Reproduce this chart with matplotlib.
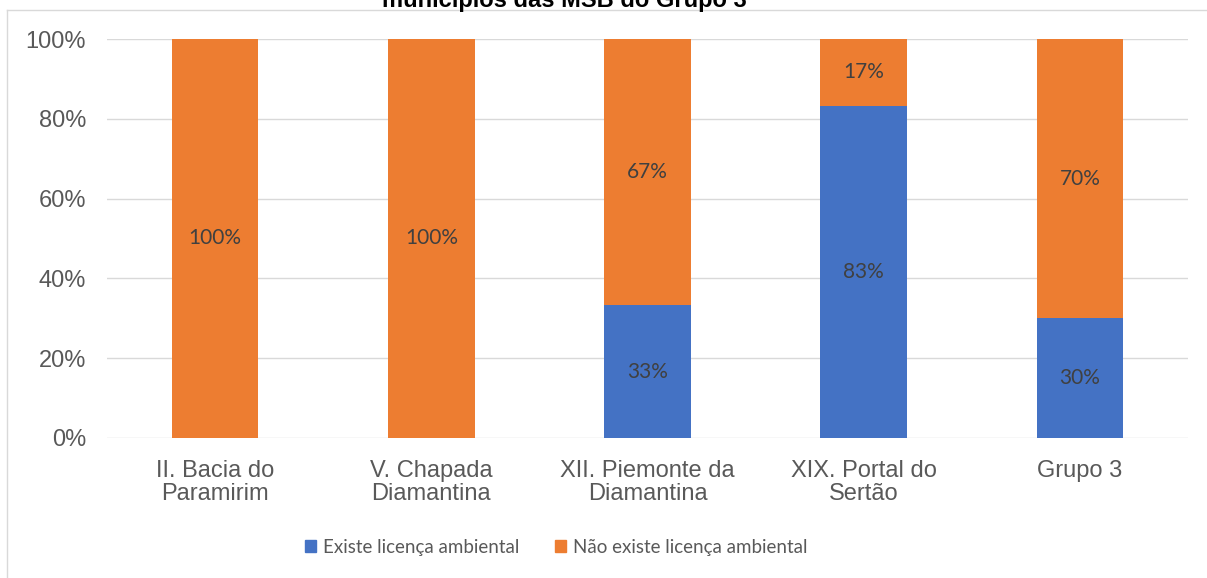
import matplotlib.pyplot as plt
import numpy as np
from matplotlib.lines import Line2D
from matplotlib.patches import Patch

plt.rcParams['font.family'] = ['Liberation Sans', 'DejaVu Sans']

categories = ["II. Bacia do\nParamirim", "V. Chapada\nDiamantina", "XII. Piemonte da\nDiamantina",
              "XIX. Portal do\nSertão", "Grupo 3"]
existe = [0, 0, 33.3, 83.3, 30]
nao_existe = [100, 100, 66.7, 16.7, 70]
existe_labels = ["", "", "33%", "83%", "30%"]
nao_labels = ["100%", "100%", "67%", "17%", "70%"]

blue = "#4472C4"
orange = "#ED7D31"

W, H = 1207, 578
fig = plt.figure(figsize=(W / 100, H / 100), dpi=100)
ax = fig.add_axes([107 / W, (H - 438) / H, 1081 / W, 399 / H])

x = np.arange(len(categories))
b1 = ax.bar(x, existe, width=0.4, color=blue, zorder=3)
b2 = ax.bar(x, nao_existe, width=0.4, bottom=existe, color=orange, zorder=3)
for t in ax.bar_label(b1, labels=existe_labels, label_type='center', color="#404040"):
    t.set_fontfamily('Lato')
    t.set_fontsize(15)
for t in ax.bar_label(b2, labels=nao_labels, label_type='center', color="#404040"):
    t.set_fontfamily('Lato')
    t.set_fontsize(15)

ax.set_xlim(-0.5, len(categories) - 0.5)
ax.set_ylim(0, 100)
ax.set_yticks(range(0, 101, 20))
ax.set_yticklabels([f"{v}%" for v in range(0, 101, 20)])
ax.set_xticks(x)
ax.set_xticklabels(categories, linespacing=1.05)
ax.tick_params(axis='both', length=0, labelsize=17, colors="#595959")
ax.tick_params(axis='y', pad=15)
ax.tick_params(axis='x', pad=16)
ax.grid(axis='y', color="#d9d9d9", linewidth=1, zorder=0)
for s in ax.spines.values():
    s.set_visible(False)

# chart frame (top and left edges only)
fig.add_artist(Line2D([7 / W, 1], [1 - 10 / H, 1 - 10 / H], color="#d9d9d9", lw=1, transform=fig.transFigure))
fig.add_artist(Line2D([7 / W, 7 / W], [0, 1 - 10 / H], color="#d9d9d9", lw=1, transform=fig.transFigure))

fig.text(564 / W, 1 - 7 / H, "municípios das MSB do Grupo 3", ha='center', va='baseline',
         fontsize=17, fontweight='bold', color="black")

handles = [Patch(color=blue, label="Existe licença ambiental"),
           Patch(color=orange, label="Não existe licença ambiental")]
fig.legend(handles=handles, loc='center', bbox_to_anchor=(556 / W, 1 - 547 / H), ncol=2,
           frameon=False, prop={'family': 'Lato', 'size': 13.5}, labelcolor="#595959",
           handlelength=0.6, handleheight=0.6, handletextpad=0.35, columnspacing=1.9)

fig.savefig("out.png", dpi=100)
